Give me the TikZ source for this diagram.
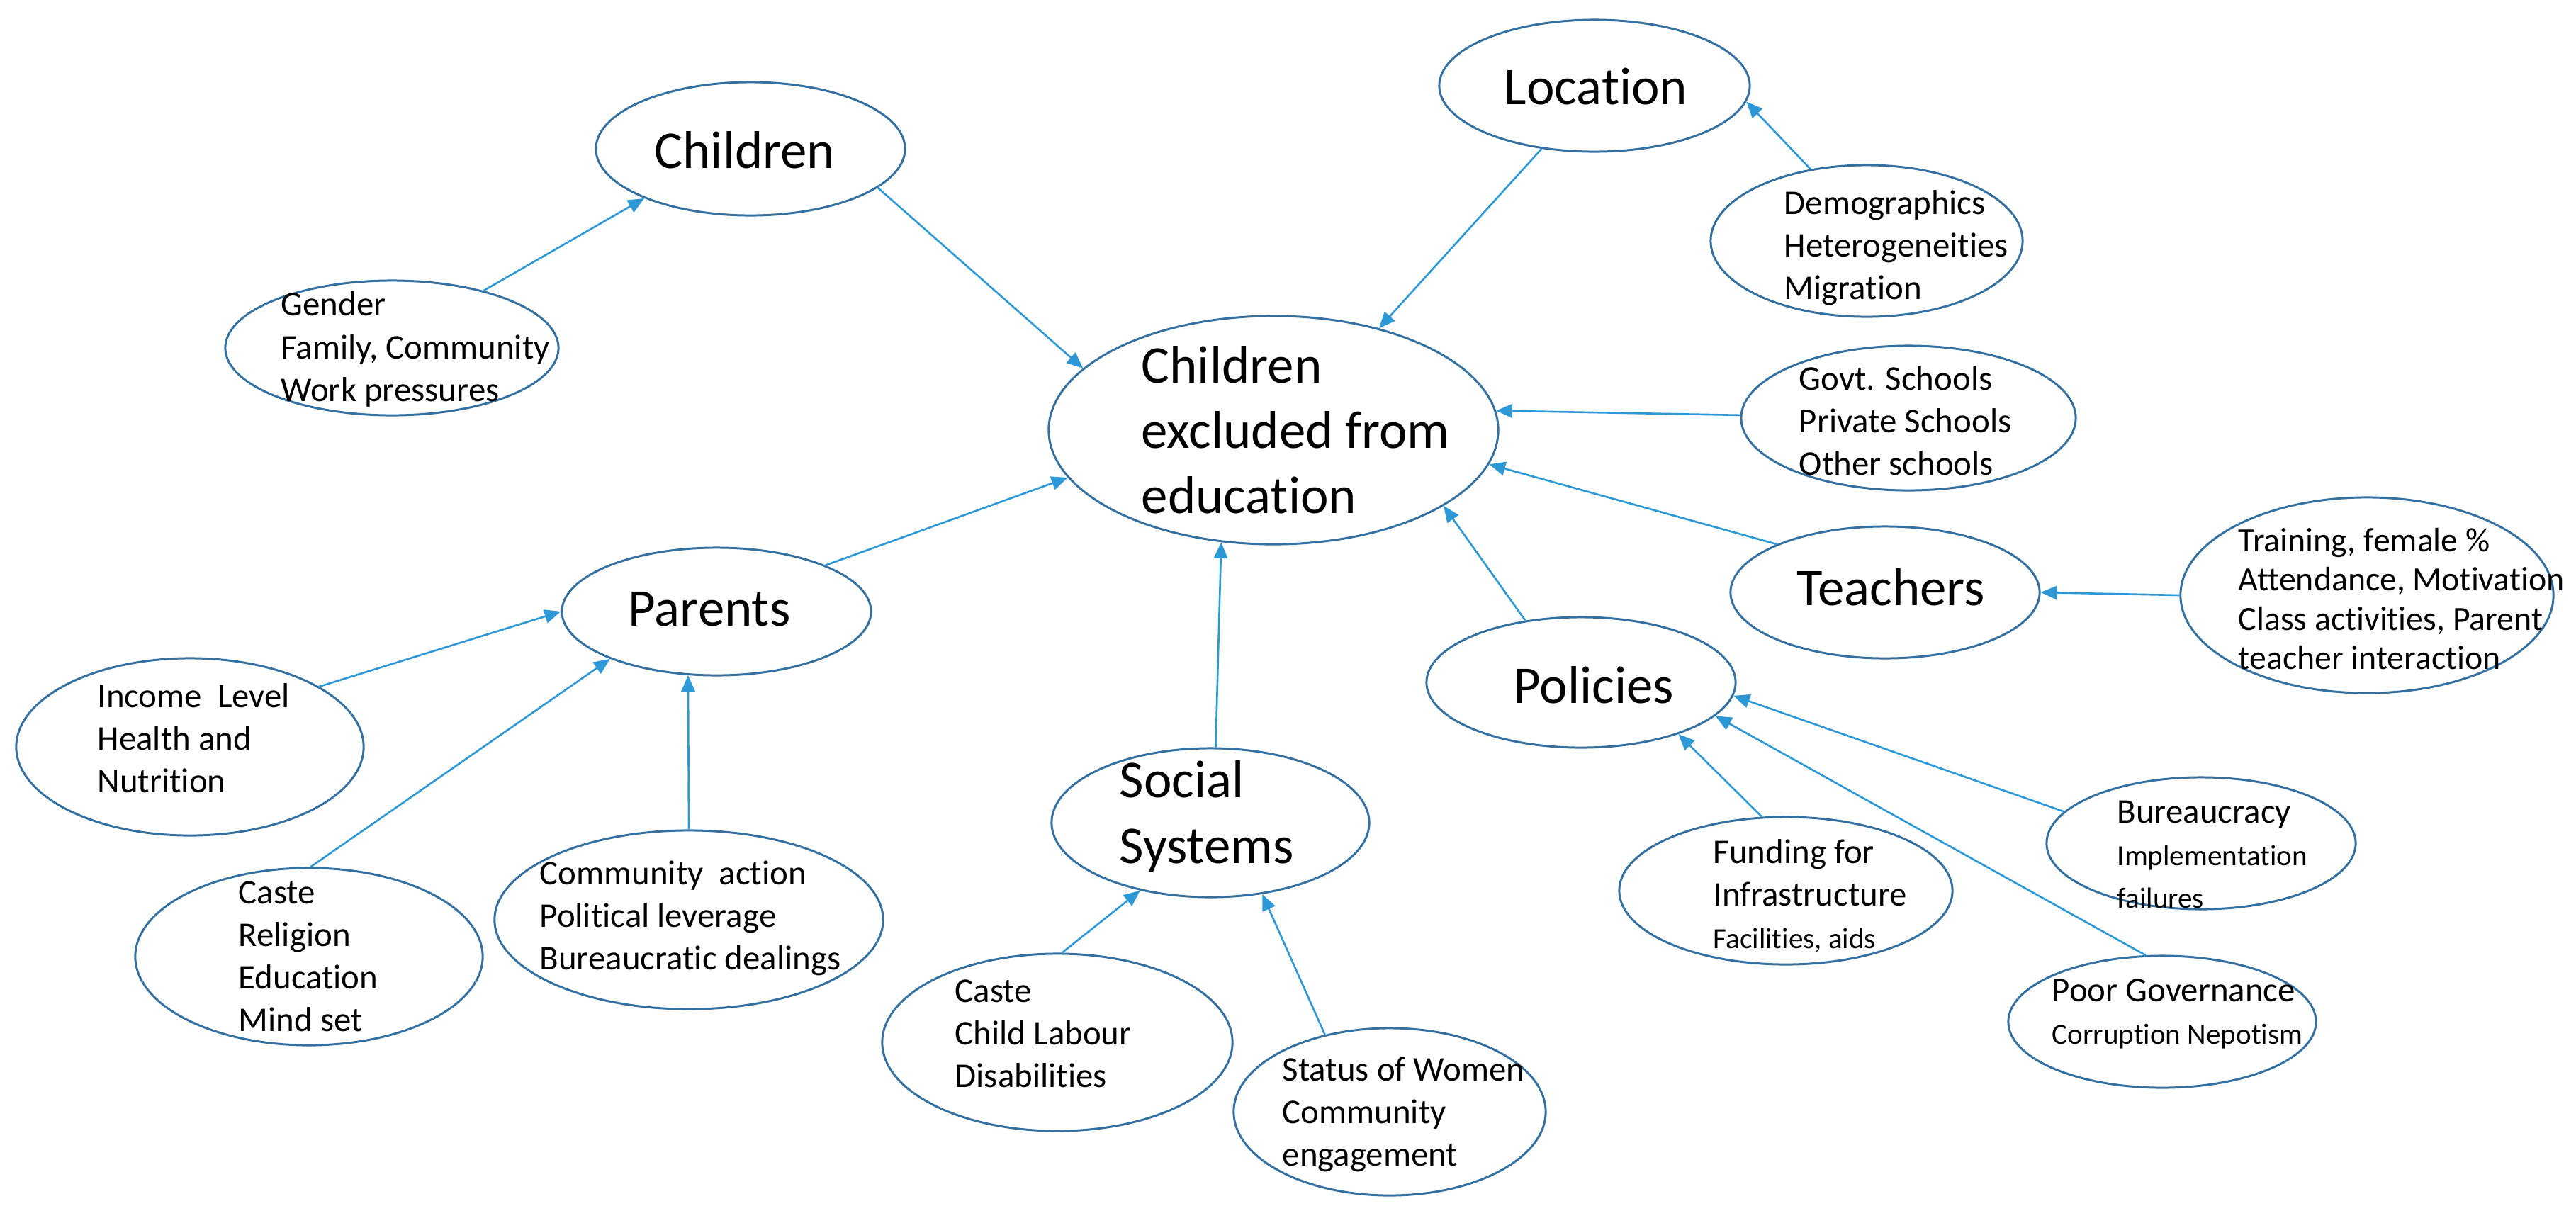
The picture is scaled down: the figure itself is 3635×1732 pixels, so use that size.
\documentclass[tikz,border=0pt]{standalone}
\usepackage{fontspec}
\setmainfont{Carlito}[Ligatures={NoCommon}]
\usetikzlibrary{shapes.geometric,arrows.meta}
\definecolor{ellc}{RGB}{52,112,160}
\definecolor{arrc}{RGB}{45,152,214}
\newcommand{\FBig}{\fontsize{21.3pt}{26.2pt}\selectfont}
\newcommand{\FMed}{\fontsize{13.9pt}{17.1pt}\selectfont}
\newcommand{\FTr}{\fontsize{13.6pt}{15.7pt}\selectfont}
\newcommand{\FSml}{\fontsize{11.7pt}{14.8pt}\selectfont}
\begin{document}
\begin{tikzpicture}[x=0.01cm,y=-0.01cm,
  ell/.style={ellipse, draw=ellc, line width=0.85pt, inner sep=0pt},
  lbl/.style={inner sep=0pt, align=left, anchor=west, text=black, font=\FMed},
  clbl/.style={inner sep=0pt, text=black, font=\FBig},
  conn/.style={draw=arrc, line width=0.75pt, -{Triangle[length=6.5pt,width=5.5pt]}}]
\useasboundingbox (0,0) rectangle (3635,1732);

% ellipses
\node[ell, minimum width=4.36cm, minimum height=1.88cm] (children) at (1059,210) {};
\node[ell, minimum width=4.70cm, minimum height=1.90cm] (gender) at (553,491) {};
\node[ell, minimum width=4.38cm, minimum height=1.86cm] (location) at (2250,121) {};
\node[ell, minimum width=4.40cm, minimum height=2.14cm] (demog) at (2634,340) {};
\node[ell, minimum width=6.34cm, minimum height=3.22cm] (central) at (1797,607) {};
\node[ell, minimum width=4.72cm, minimum height=2.04cm] (govt) at (2693,590) {};
\node[ell, minimum width=4.36cm, minimum height=1.86cm] (teachers) at (2660,836) {};
\node[ell, minimum width=5.26cm, minimum height=2.76cm] (training) at (3340,840) {};
\node[ell, minimum width=4.36cm, minimum height=1.80cm] (parents) at (1011,863) {};
\node[ell, minimum width=4.90cm, minimum height=2.50cm] (income) at (268,1054) {};
\node[ell, minimum width=4.90cm, minimum height=2.50cm] (caste) at (436,1350) {};
\node[ell, minimum width=5.48cm, minimum height=2.52cm] (community) at (972,1298) {};
\node[ell, minimum width=4.48cm, minimum height=2.10cm] (social) at (1708,1161) {};
\node[ell, minimum width=4.94cm, minimum height=2.50cm] (castecl) at (1492,1471) {};
\node[ell, minimum width=4.40cm, minimum height=2.36cm] (status) at (1961,1569) {};
\node[ell, minimum width=4.36cm, minimum height=1.84cm] (policies) at (2231,963) {};
\node[ell, minimum width=4.70cm, minimum height=2.08cm] (funding) at (2520,1257) {};
\node[ell, minimum width=4.36cm, minimum height=1.86cm] (bureau) at (3106,1190) {};
\node[ell, minimum width=4.34cm, minimum height=1.86cm] (poor) at (3051,1442) {};

% texts
\node[clbl] (tchildren) at (1051,212) {Children};
\node[lbl] (tgender) at (396,493) {Gender\\Family, Community\\Work pressures};
\node[clbl] (tlocation) at (2252,122) {Location};
\node[lbl] (tdemog) at (2517,350) {Demographics\\Heterogeneities\\Migration};
\node[lbl, font=\FBig] (tcentral) at (1610,607) {Children\\excluded from\\education};
\node[lbl] (tgovt) at (2538,594) {Govt. Schools\\Private Schools\\Other schools};
\node[clbl] (tteachers) at (2668,829) {Teachers};
\node[lbl, font=\FTr] (ttraining) at (3158,845) {Training, female \%\\Attendance, Motivation\\Class activities, Parent\\teacher interaction};
\node[clbl] (tparents) at (1001,860) {Parents};
\node[lbl] (tincome) at (137,1042) {Income\ \ Level\\Health and\\Nutrition};
\node[lbl] (tcaste) at (336,1350) {Caste\\Religion\\Education\\Mind set};
\node[lbl] (tcommunity) at (761,1296) {Community\ \ action\\Political leverage\\Bureaucratic dealings};
\node[lbl, font=\FBig] (tsocial) at (1579,1152) {Social\\Systems};
\node[lbl] (tcastecl) at (1347,1459) {Caste\\Child Labour\\Disabilities};
\node[lbl] (tstatus) at (1809,1573) {Status of Women\\Community\\engagement};
\node[clbl] (tpolicies) at (2249,967) {Policies};
\node[lbl] (tfunding) at (2417,1264) {Funding for\\Infrastructure\\\FSml Facilities, aids};
\node[lbl] (tbureau) at (2987,1206) {Bureaucracy\\\FSml Implementation\\\FSml failures};
\node[lbl] (tpoor) at (2895,1431) {Poor Governance\\\FSml Corruption Nepotism};

% connectors
\draw[conn] (children.-17) -- (central.162);
\draw[conn] (gender.32) -- (children.205);
\draw[conn] (location.230) -- (central.44);
\draw[conn] (demog.128) -- (location.-6);
\draw[conn] (govt.179) -- (central.5);
\draw[conn] (teachers.156) -- (central.-9);
\draw[conn] (training.180) -- (teachers.0);
\draw[conn] (policies.132) -- (central.-24);
\draw[conn] (bureau.167) -- (policies.-5);
\draw[conn] (poor.104) -- (policies.-14);
\draw[conn] (funding.108) -- (policies.-28);
\draw[conn] (social.86) -- (central.245);
\draw[conn] (castecl.87) -- (social.224);
\draw[conn] (status.130) -- (social.-54);
\draw[conn] (parents.23) -- (central.193);
\draw[conn] (income.25) -- (parents.180);
\draw[conn] (caste.89) -- (parents.204);
\draw[conn] (community.90) -- (parents.246);
\end{tikzpicture}
\end{document}
